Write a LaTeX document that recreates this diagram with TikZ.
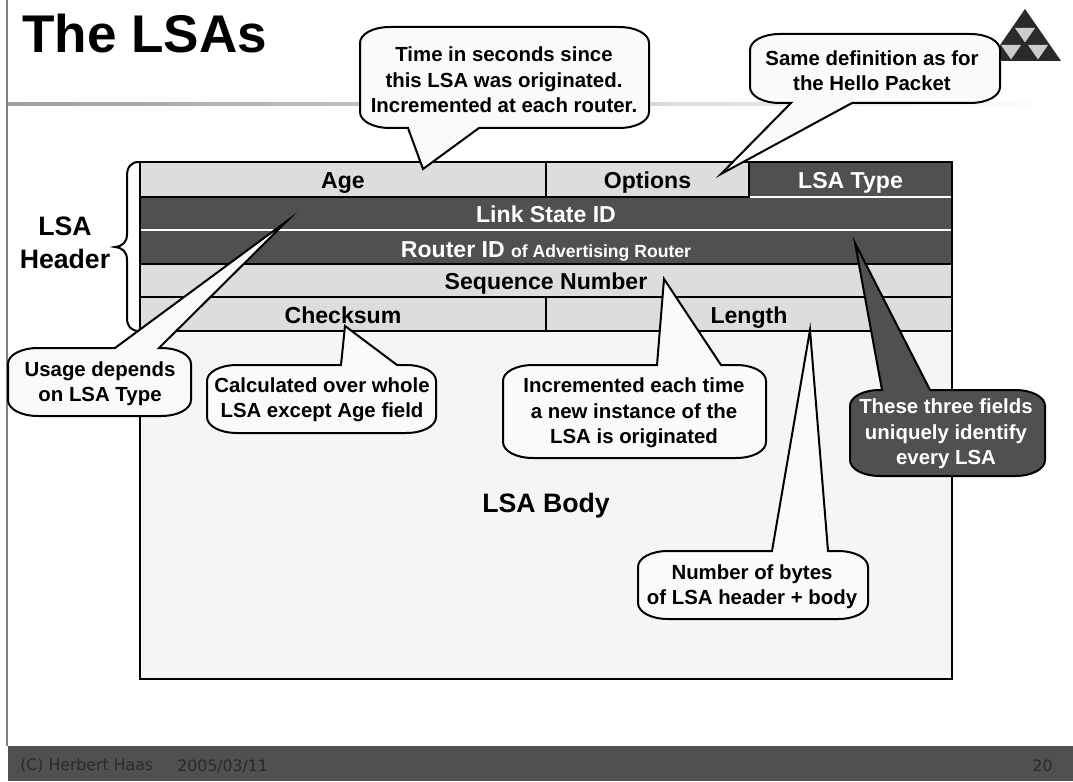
\documentclass[tikz,border=0pt]{standalone}
\usepackage{fontspec}
\setmainfont{Liberation Sans}
\newfontfamily\footfont{DejaVu Sans}
\definecolor{fieldlight}{HTML}{DDDDDD}
\definecolor{fielddark}{HTML}{505050}
\definecolor{bodygray}{HTML}{F5F5F5}
\definecolor{bubblegray}{HTML}{FAFAFA}
\definecolor{footink}{HTML}{2A2A2A}
% #1 style, #2-#5 left top right bottom, #6 tail on the top edge, #7 tail on the bottom edge
\newcommand{\bubble}[7]{
    \draw[#1] (#2+30,#3) #6 -- (#4-30,#3) .. controls (#4-13,#3) and (#4,#3+7) .. (#4,#3+16)
        -- (#4,#5-16) .. controls (#4,#5-7) and (#4-13,#5) .. (#4-30,#5) #7
        -- (#2+30,#5) .. controls (#2+13,#5) and (#2,#5-7) .. (#2,#5-16)
        -- (#2,#3+16) .. controls (#2,#3+7) and (#2+13,#3) .. cycle;
}
\begin{document}
\begin{tikzpicture}[x=0.75pt,y=-0.75pt,
    lightfield/.style={draw=black,fill=fieldlight,line width=1.5pt},
    darkfield/.style={draw=black,fill=fielddark,line width=1.5pt},
    fieldtext/.style={font=\fontsize{17.3}{20}\bfseries,inner sep=0pt,text height=12.4pt,text depth=0pt,yshift=-0.75pt},
    bubblelight/.style={draw=black,fill=bubblegray,line width=1.5pt,miter limit=20},
    bubbledark/.style={draw=black,fill=fielddark,line width=1.5pt,miter limit=20},
    bubbletext/.style={font=\fontsize{15.3}{19}\bfseries,align=center,inner sep=0pt},
    bigtext/.style={font=\fontsize{20}{25}\bfseries,align=center,inner sep=0pt},
    foottext/.style={font=\footfont\fontsize{11.8}{14}\selectfont,text=footink,inner sep=0pt}]
    \useasboundingbox (0,0) rectangle (1073,781);
    \fill[white] (0,0) rectangle (1073,781);

    % slide frame
    \draw[gray,line width=1.5pt] (7,0) -- (7,746);
    \shade[left color=black!38,right color=white] (8,103) rectangle (1060,106);
    \fill[fielddark] (8,746) rectangle (1073,781);
    \node[foottext,anchor=west] (author) at (20,766) {(C) Herbert Haas};
    \node[foottext,anchor=west] (date) at (177,766) {2005/03/11};
    \node[foottext,anchor=east] (pagenr) at (1053,766) {20};
    \node[font=\fontsize{39.8}{44}\bfseries,anchor=west,inner sep=0pt] (title) at (22,34) {The LSAs};

    % logo
    \fill[footink] (1025,9) -- (1061,61) -- (989,61) -- cycle;
    \foreach \x/\y in {1025/28,1011/45,1038/45}
    {
        \fill[black!20] (\x-10,\y) -- (\x+10,\y) -- (\x,\y+14.5) -- cycle;
    }

    % LSA fields
    \draw[lightfield] (140,331) rectangle (952,679);
    \fill[bodygray] (141,332) rectangle (951,678);
    \draw[lightfield] (140,162) rectangle (546,197) node[midway,fieldtext] (age) {Age};
    \draw[lightfield] (546,162) rectangle (749,197) node[midway,fieldtext] (options) {Options};
    \draw[darkfield] (749,162) rectangle (952,197) node[midway,fieldtext,text=white] (lsatype) {LSA Type};
    \draw[darkfield] (140,197) rectangle (952,264);
    \draw[white,line width=1pt] (750,197) -- (951,197);
    \draw[white,line width=1pt] (141,230) -- (951,230);
    \node[fieldtext,text=white] (linkstate) at (546,213) {Link State ID};
    \node[fieldtext,text=white] (routerid) at (546,248) {Router ID {\fontsize{13.2}{15}\selectfont of Advertising Router}};
    \draw[lightfield] (140,264) rectangle (952,297) node[midway,fieldtext] (seqnr) {Sequence Number};
    \draw[lightfield] (140,297) rectangle (546,331) node[midway,fieldtext] (checksum) {Checksum};
    \draw[lightfield] (546,297) rectangle (952,331) node[midway,fieldtext] (length) {Length};
    \node[bigtext] (lsabody) at (546,506) {LSA Body};

    % header brace
    \draw[line width=1.5pt] (139,162) .. controls (131,162) and (127,167) .. (127,176)
        -- (127,234) .. controls (127,242) and (123,246) .. (115,247)
        .. controls (123,248) and (127,252) .. (127,260)
        -- (127,318) .. controls (127,326) and (131,331) .. (139,331);
    \node[bigtext] (lsaheader) at (65,243) {LSA\\Header};

    % callouts
    \bubble{bubblelight}{360}{27}{649}{128}{}{-- (479,128) -- (423,169) -- (408,128)}
    \node[bubbletext] (agetext) at (504,80) {Time in seconds since\\this LSA was originated.\\Incremented at each router.};
    \bubble{bubblelight}{750}{34}{1000}{103}{}{-- (852,103) -- (721,174) -- (791,103)}
    \node[bubbletext] (optionstext) at (872,71) {Same definition as for\\the Hello Packet};
    \bubble{bubblelight}{8}{348}{191}{416}{-- (115,348) -- (287,221) -- (159,348)}{}
    \node[bubbletext] (linktext) at (100,384) {Usage depends\\on LSA Type};
    \bubble{bubblelight}{207}{365}{436}{433}{-- (341,365) -- (345,326) -- (397,365)}{}
    \node[bubbletext] (checktext) at (322,400) {Calculated over whole\\LSA except Age field};
    \bubble{bubblelight}{503}{365}{766}{458}{-- (657,365) -- (664,279) -- (721,365)}{}
    \node[bubbletext] (seqtext) at (634,413) {Incremented each time\\a new instance of the\\LSA is originated};
    \bubble{bubblelight}{638}{551}{868}{619}{-- (772,551) -- (810,330) -- (828,551)}{}
    \node[bubbletext] (lengthtext) at (752,587) {Number of bytes\\of LSA header + body};
    \bubble{bubbledark}{850}{390}{1045}{476}{-- (882,390) -- (855,243) -- (930,390)}{}
    \node[bubbletext,text=white] (uniquetext) at (946,434) {These three fields\\uniquely identify\\every LSA};
\end{tikzpicture}
\end{document}
